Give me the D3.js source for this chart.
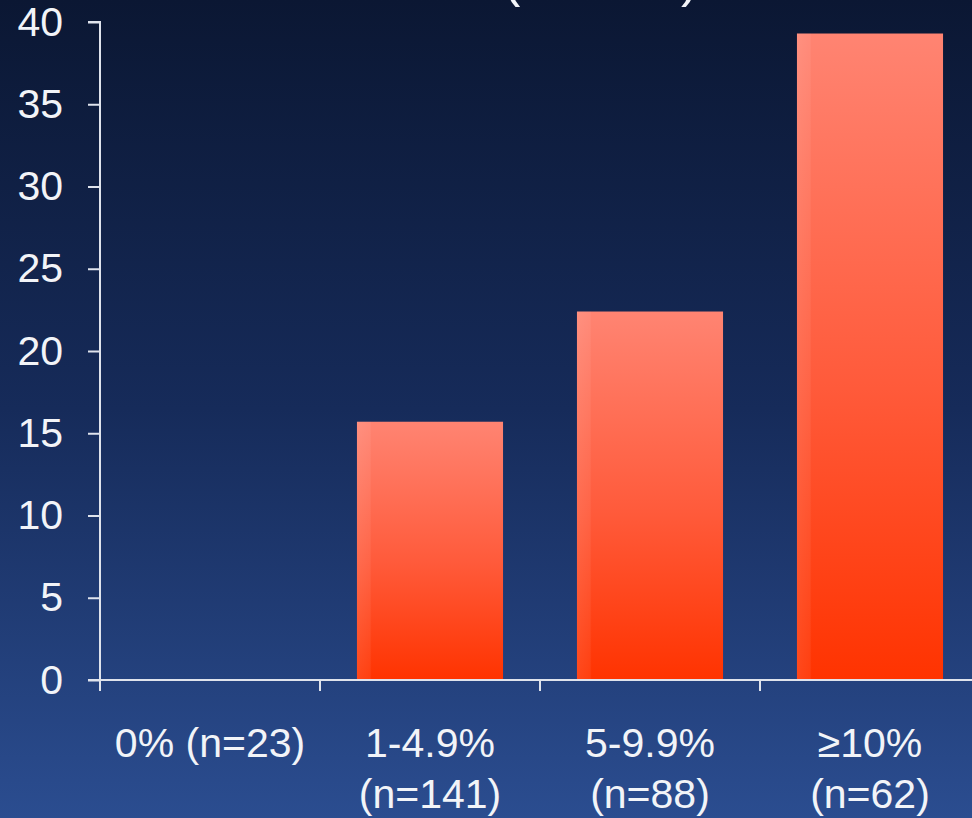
<!DOCTYPE html>
<html>
<head>
<meta charset="utf-8">
<script src="https://cdn.jsdelivr.net/npm/d3@7"></script>
<style>
  html, body { margin: 0; padding: 0; background: #0b1733; }
  svg { display: block; }
  text { font-family: "Liberation Sans", Arial, sans-serif; fill: #f2f4f8; }
</style>
</head>
<body>
<svg id="chart" width="972" height="818"></svg>
<script>
// Categories (two-line labels) and values in percent
const categories = ["0%", "1-4.9%", "5-9.9%", "≥10%"];
const groupSizes = ["(n=23)", "(n=141)", "(n=88)", "(n=62)"];
const values = [0, 15.7, 22.4, 39.3];
const yTicks = [0, 5, 10, 15, 20, 25, 30, 35, 40];

const W = 972, H = 818;
const svg = d3.select("#chart");
const defs = svg.append("defs");

// Navy backdrop, darker at the top
const bg = defs.append("linearGradient").attr("id", "bg")
  .attr("x1", 0).attr("y1", 0).attr("x2", 0).attr("y2", 1);
bg.append("stop").attr("offset", 0).attr("stop-color", "#0b1733");
bg.append("stop").attr("offset", 0.5).attr("stop-color", "#162b5a");
bg.append("stop").attr("offset", 1).attr("stop-color", "#2b4d90");
svg.append("rect").attr("width", W).attr("height", H).attr("fill", "url(#bg)");

// Bar fill: salmon at the top fading into orange-red
const barGrad = defs.append("linearGradient").attr("id", "barGrad")
  .attr("x1", 0).attr("y1", 0).attr("x2", 0).attr("y2", 1);
barGrad.append("stop").attr("offset", 0).attr("stop-color", "#ff8472");
barGrad.append("stop").attr("offset", 0.55).attr("stop-color", "#ff5a3a");
barGrad.append("stop").attr("offset", 1).attr("stop-color", "#ff3300");

// Faint highlight along the left edge of each bar
const sheen = defs.append("linearGradient").attr("id", "sheen")
  .attr("x1", 0).attr("y1", 0).attr("x2", 1).attr("y2", 0);
sheen.append("stop").attr("offset", 0).attr("stop-color", "#ffffff").attr("stop-opacity", 0.10);
sheen.append("stop").attr("offset", 0.09).attr("stop-color", "#ffffff").attr("stop-opacity", 0.06);
sheen.append("stop").attr("offset", 0.1).attr("stop-color", "#ffffff").attr("stop-opacity", 0);
sheen.append("stop").attr("offset", 1).attr("stop-color", "#ffffff").attr("stop-opacity", 0);

// Heading above the plot, running off the top edge
svg.append("text").attr("x", 503).attr("y", -4).attr("font-size", 52).text("(");
svg.append("text").attr("x", 681).attr("y", -4).attr("font-size", 52).text(")");

const x = d3.scaleBand().domain(categories).range([100, 980]).paddingInner(0.336).paddingOuter(0.168);
const y = d3.scaleLinear().domain([0, 40]).range([680, 22]);

const barData = values.map((v, i) => ({ c: categories[i], v }));

// Bars
const bars = svg.append("g");
bars.selectAll("rect.bar")
  .data(barData)
  .join("rect").attr("class", "bar")
  .attr("x", d => x(d.c))
  .attr("width", x.bandwidth())
  .attr("y", d => y(d.v))
  .attr("height", d => y(0) - y(d.v))
  .attr("fill", "url(#barGrad)");
bars.selectAll("rect.sheen")
  .data(barData.filter(d => d.v > 0))
  .join("rect").attr("class", "sheen")
  .attr("x", d => x(d.c))
  .attr("width", x.bandwidth())
  .attr("y", d => y(d.v))
  .attr("height", d => y(0) - y(d.v))
  .attr("fill", "url(#sheen)");

const axisColor = "#dfe3ec";

// Y axis
const yAxis = svg.append("g").attr("transform", "translate(100,0)")
  .call(d3.axisLeft(y).tickValues(yTicks).tickSize(12).tickPadding(25));
yAxis.select(".domain").attr("stroke", axisColor).attr("stroke-width", 2)
  .attr("d", `M-12,${y(40)}H0V${y(0) + 11}`);
yAxis.selectAll(".tick line").attr("stroke", axisColor).attr("stroke-width", 2);
yAxis.selectAll(".tick text").attr("font-size", 41).attr("fill", "#f2f4f8")
  .attr("font-family", "Liberation Sans, Arial, sans-serif");

// X axis with ticks on the band boundaries
const boundaries = categories.slice(1).map(c => x(c) - x.step() * x.paddingInner() / 2);
const xAxis = svg.append("g");
xAxis.append("line").attr("x1", 88).attr("x2", W).attr("y1", y(0)).attr("y2", y(0))
  .attr("stroke", axisColor).attr("stroke-width", 2);
xAxis.selectAll("line.tk").data(boundaries).join("line").attr("class", "tk")
  .attr("x1", d => d).attr("x2", d => d)
  .attr("y1", y(0)).attr("y2", y(0) + 11)
  .attr("stroke", axisColor).attr("stroke-width", 2);

// Category labels
const labels = svg.append("g").attr("font-size", 41).attr("text-anchor", "middle");
categories.forEach((c, i) => {
  const cx = x(c) + x.bandwidth() / 2;
  if (i === 0) {
    labels.append("text").attr("x", cx).attr("y", 757).text(c + " " + groupSizes[i]);
  } else {
    labels.append("text").attr("x", cx).attr("y", 757).text(c);
    labels.append("text").attr("x", cx).attr("y", 808).text(groupSizes[i]);
  }
});
</script>
</body>
</html>
